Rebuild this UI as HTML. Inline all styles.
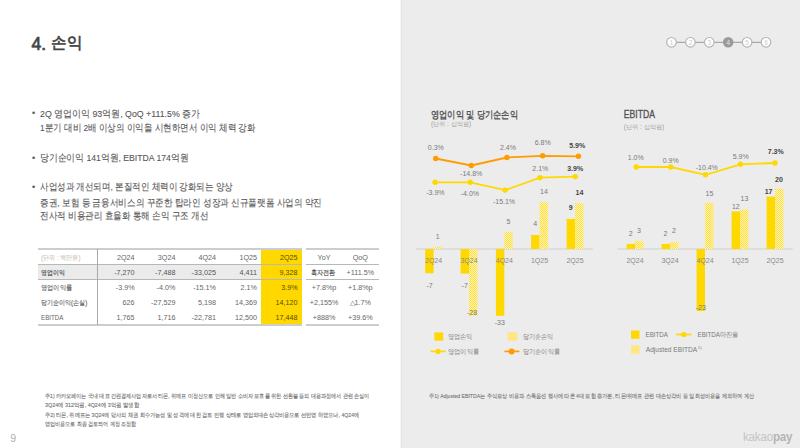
<!DOCTYPE html>
<html><head><meta charset="utf-8">
<style>
*{margin:0;padding:0;box-sizing:border-box}
html,body{width:800px;height:448px;overflow:hidden;background:#fff}
body{position:relative;font-family:"Liberation Sans",sans-serif;color:#555}
.a{position:absolute;white-space:nowrap;line-height:1}
#panel{position:absolute;left:400px;top:0;width:400px;height:448px;background:linear-gradient(90deg,#f5f5f5 0,#f5f5f5 1px,#e6e6e6 1px,#e6e6e6 2px,#ececec 2px)}
.tl{position:absolute;background:#c8c8c8}
.t{position:absolute;font-size:7.2px;color:#666;white-space:nowrap;line-height:1}
.r{text-align:right}
.c{text-align:center}
</style></head><body>
<div id="panel"></div>
<div class="a" style="left:32px;top:109.1px;font-size:9px;color:#555">•</div>
<div class="a" style="left:32px;top:153.5px;font-size:9px;color:#555">•</div>
<div class="a" style="left:32px;top:182.9px;font-size:9px;color:#555">•</div>
<!-- table -->
<div style="position:absolute;left:38px;top:265px;width:223px;height:14.5px;background:#ebebeb"></div>
<div style="position:absolute;left:260.5px;top:249px;width:41.3px;height:76px;background:#ffd800"></div>
<div class="tl" style="left:38px;top:248px;width:264px;height:2px;background:#cdcdcd"></div>
<div class="tl" style="left:38px;top:264px;width:264px;height:1px;background:#b8b8b8"></div>
<div class="tl" style="left:38px;top:279px;width:264px;height:1px;background:#b8b8b8"></div>
<div class="tl" style="left:38px;top:324.3px;width:264px;height:1.8px;background:#cdcdcd"></div>
<div class="tl" style="left:96.5px;top:249px;width:1.5px;height:76px;background:#a8a8a8"></div>
<div class="tl" style="left:306.3px;top:248px;width:73px;height:2px;background:#cdcdcd"></div>
<div class="tl" style="left:306.3px;top:264px;width:73px;height:1px;background:#b8b8b8"></div>
<div class="tl" style="left:306.3px;top:279.3px;width:73px;height:1px;background:#b8b8b8"></div>
<div class="tl" style="left:306.3px;top:324.3px;width:73px;height:1.8px;background:#cdcdcd"></div>
<div class="t r" style="left:74.6px;width:60px;top:253.6px;color:#666">2Q24</div>
<div class="t r" style="left:115.4px;width:60px;top:253.6px;color:#666">3Q24</div>
<div class="t r" style="left:156.0px;width:60px;top:253.6px;color:#666">4Q24</div>
<div class="t r" style="left:197.0px;width:60px;top:253.6px;color:#666">1Q25</div>
<div class="t r" style="left:237.6px;width:60px;top:253.6px;color:#5a4a00">2Q25</div>
<div class="t c" style="left:294.0px;width:60px;top:253.6px;letter-spacing:0">YoY</div>
<div class="t c" style="left:330.3px;width:60px;top:253.6px;letter-spacing:0">QoQ</div>
<div class="t r" style="left:74.6px;width:60px;top:268.9px;color:#555">-7,270</div>
<div class="t r" style="left:115.4px;width:60px;top:268.9px;color:#555">-7,488</div>
<div class="t r" style="left:156.0px;width:60px;top:268.9px;color:#555">-33,025</div>
<div class="t r" style="left:197.0px;width:60px;top:268.9px;color:#555">4,411</div>
<div class="t r" style="left:237.6px;width:60px;top:268.9px;color:#5a4a00">9,328</div>
<div class="t c" style="left:330.3px;width:60px;top:268.9px;letter-spacing:0">+111.5%</div>
<div class="t r" style="left:74.6px;width:60px;top:283.8px;color:#666">-3.9%</div>
<div class="t r" style="left:115.4px;width:60px;top:283.8px;color:#666">-4.0%</div>
<div class="t r" style="left:156.0px;width:60px;top:283.8px;color:#666">-15.1%</div>
<div class="t r" style="left:197.0px;width:60px;top:283.8px;color:#666">2.1%</div>
<div class="t r" style="left:237.6px;width:60px;top:283.8px;color:#5a4a00">3.9%</div>
<div class="t c" style="left:294.0px;width:60px;top:283.8px;letter-spacing:0">+7.8%p</div>
<div class="t c" style="left:330.3px;width:60px;top:283.8px;letter-spacing:0">+1.8%p</div>
<div class="t r" style="left:74.6px;width:60px;top:298.9px;color:#666">626</div>
<div class="t r" style="left:115.4px;width:60px;top:298.9px;color:#666">-27,529</div>
<div class="t r" style="left:156.0px;width:60px;top:298.9px;color:#666">5,198</div>
<div class="t r" style="left:197.0px;width:60px;top:298.9px;color:#666">14,369</div>
<div class="t r" style="left:237.6px;width:60px;top:298.9px;color:#5a4a00">14,120</div>
<div class="t c" style="left:294.0px;width:60px;top:298.9px;letter-spacing:0">+2,155%</div>
<div class="t c" style="left:330.3px;width:60px;top:298.9px;letter-spacing:0">△1.7%</div>
<div class="t r" style="left:74.6px;width:60px;top:314.1px;color:#666">1,765</div>
<div class="t r" style="left:115.4px;width:60px;top:314.1px;color:#666">1,716</div>
<div class="t r" style="left:156.0px;width:60px;top:314.1px;color:#666">-22,781</div>
<div class="t r" style="left:197.0px;width:60px;top:314.1px;color:#666">12,500</div>
<div class="t r" style="left:237.6px;width:60px;top:314.1px;color:#5a4a00">17,448</div>
<div class="t c" style="left:294.0px;width:60px;top:314.1px;letter-spacing:0">+888%</div>
<div class="t c" style="left:330.3px;width:60px;top:314.1px;letter-spacing:0">+39.6%</div>
<div class="a" id="title1" style="left:31.6px;top:35.7px;font-size:17.5px;color:#444;-webkit-text-stroke:0.7px #444">4.</div>
<div class="a" id="title2" style="left:51.3px;top:35.4px;font-size:15.5px;transform:scaleX(0.9713);transform-origin:0 0;color:#444;-webkit-text-stroke:0.7px #444">손익</div>
<div class="a" id="b1" style="left:40px;top:109px;font-size:9.8px;transform:scaleX(0.8969);transform-origin:0 0;color:#555;-webkit-text-stroke:0.1px #555">2Q 영업이익 93억원, QoQ +111.5% 증가</div>
<div class="a" id="b2" style="left:40px;top:122.7px;font-size:9.8px;transform:scaleX(0.8528);transform-origin:0 0;color:#555;-webkit-text-stroke:0.1px #555">1분기 대비 2배 이상의 이익을 시현하면서 이익 체력 강화</div>
<div class="a" id="b3" style="left:40px;top:152.6px;font-size:9.8px;transform:scaleX(0.8815);transform-origin:0 0;color:#555;-webkit-text-stroke:0.1px #555">당기순이익 141억원, EBITDA 174억원</div>
<div class="a" id="b4" style="left:40px;top:182px;font-size:9.8px;transform:scaleX(0.8522);transform-origin:0 0;color:#555;-webkit-text-stroke:0.1px #555">사업성과 개선되며, 본질적인 체력이 강화되는 양상</div>
<div class="a" id="b5" style="left:40px;top:197.8px;font-size:9.8px;transform:scaleX(0.8617);transform-origin:0 0;color:#555;-webkit-text-stroke:0.1px #555">증권, 보험 등 금융서비스의 꾸준한 탑라인 성장과 신규플랫폼 사업의 약진</div>
<div class="a" id="b6" style="left:40px;top:211.3px;font-size:9.8px;transform:scaleX(0.8575);transform-origin:0 0;color:#555;-webkit-text-stroke:0.1px #555">전사적 비용관리 효율화 통해 손익 구조 개선</div>
<div class="a" id="f1" style="left:45px;top:392.5px;font-size:6.0px;transform:scaleX(0.8465);transform-origin:0 0;color:#707070;-webkit-text-stroke:0.12px #707070">주1) 카카오페이는 국내 대표 간편결제사업자로서 티몬, 위메프 미정산으로 인해 일반 소비자 보호를 위한 선환불 등의 대응과정에서 관련 손실이</div>
<div class="a" id="f2" style="left:45px;top:402.3px;font-size:6.0px;transform:scaleX(0.8953);transform-origin:0 0;color:#707070;-webkit-text-stroke:0.12px #707070">3Q24에 312억원, 4Q24에 3억원 발생함</div>
<div class="a" id="f3" style="left:45px;top:411.8px;font-size:6.0px;transform:scaleX(0.8618);transform-origin:0 0;color:#707070;-webkit-text-stroke:0.12px #707070">주2) 티몬, 위메프는 3Q24에 당사의 채권 회수가능성 및 성격에 대한 검토 진행 상태로 영업외대손상각비용으로 선반영 하였으나, 4Q24에</div>
<div class="a" id="f4" style="left:45px;top:421.3px;font-size:6.0px;transform:scaleX(0.8404);transform-origin:0 0;color:#707070;-webkit-text-stroke:0.12px #707070">영업비용으로 최종 검토되어 계정 조정함</div>
<div class="a" id="f5" style="left:428.8px;top:393.2px;font-size:6.0px;transform:scaleX(0.8566);transform-origin:0 0;color:#727272;-webkit-text-stroke:0.1px #727272">주1) Adjusted EBITDA는 주식보상 비용과 스톡옵션 행사에 따른 4대 보험 증가분, 티몬/위메프 관련 대손상각비 등 일회성비용을 제외하여 계산</div>
<div class="a" id="t0" style="left:41.2px;top:254.2px;font-size:7.2px;transform:scaleX(0.8642);transform-origin:0 0;color:#c2b5aa">(단위 : 백만원)</div>
<div class="a" id="t1" style="left:41.2px;top:269.2px;font-size:7.2px;transform:scaleX(0.8455);transform-origin:0 0;color:#444;-webkit-text-stroke:0.15px #444">영업이익</div>
<div class="a" id="t2" style="left:41.2px;top:284.2px;font-size:7.2px;transform:scaleX(0.8851);transform-origin:0 0;color:#555;-webkit-text-stroke:0.1px #555">영업이익률</div>
<div class="a" id="t3" style="left:41.2px;top:299.3px;font-size:7.2px;transform:scaleX(0.8607);transform-origin:0 0;color:#555;-webkit-text-stroke:0.1px #555">당기순이익(손실)</div>
<div class="a" id="t4" style="left:41.2px;top:314.3px;font-size:7.2px;transform:scaleX(0.8621);transform-origin:0 0;color:#666">EBITDA</div>
<div class="a" id="t5" style="left:311.4px;top:269.2px;font-size:7.2px;transform:scaleX(0.8643);transform-origin:0 0;color:#444;-webkit-text-stroke:0.15px #444">흑자전환</div>
<div class="a" style="left:10.2px;top:433.3px;font-size:10.5px;color:#b0b0b0">9</div>
<div class="a" style="left:742.5px;top:431px;font-size:12.5px;letter-spacing:-0.2px;transform:scaleX(0.925);transform-origin:0 0;color:#c4c4c4">kakao<span style="font-weight:bold;color:#b4b4b4">pay</span></div>
<svg class="a" style="left:0;top:0" width="800" height="448" viewBox="0 0 800 448" font-family="Liberation Sans">
<defs><pattern id="hatch" width="2" height="2" patternUnits="userSpaceOnUse"><rect width="2" height="2" fill="#fff5bc"/><rect width="1" height="1" fill="#ffde38"/><rect x="1" y="1" width="1" height="1" fill="#ffde38"/></pattern></defs>
<line x1="671.5" y1="42.3" x2="766" y2="42.3" stroke="#9a9a9a" stroke-width="1"/>
<circle cx="671.5" cy="42.3" r="4.8" fill="#fff" stroke="#b4b4b4" stroke-width="1.2"/>
<circle cx="690.4" cy="42.3" r="4.8" fill="#fff" stroke="#b4b4b4" stroke-width="1.2"/>
<circle cx="709.3" cy="42.3" r="4.8" fill="#fff" stroke="#b4b4b4" stroke-width="1.2"/>
<circle cx="728.2" cy="42.3" r="5.3" fill="#9a9a9a"/>
<circle cx="747.1" cy="42.3" r="4.8" fill="#fff" stroke="#b4b4b4" stroke-width="1.2"/>
<circle cx="766.0" cy="42.3" r="4.8" fill="#fff" stroke="#b4b4b4" stroke-width="1.2"/>
<text x="671.5" y="44.6" font-size="6.3" text-anchor="middle" fill="#c8c8c8">1</text>
<text x="690.4" y="44.6" font-size="6.3" text-anchor="middle" fill="#c8c8c8">2</text>
<text x="709.3" y="44.6" font-size="6.3" text-anchor="middle" fill="#c8c8c8">3</text>
<text x="728.2" y="44.6" font-size="6.3" text-anchor="middle" fill="#e4e4e4">4</text>
<text x="747.1" y="44.6" font-size="6.3" text-anchor="middle" fill="#c8c8c8">5</text>
<text x="766.0" y="44.6" font-size="6.3" text-anchor="middle" fill="#c8c8c8">6</text>
<line x1="416" y1="249.0" x2="592.8" y2="249.0" stroke="#cfcfcf" stroke-width="1"/>
<rect x="425.20" y="249.00" width="8.40" height="24.20" fill="#ffd800"/>
<rect x="433.60" y="246.90" width="8.50" height="2.10" fill="url(#hatch)"/>
<rect x="460.60" y="249.00" width="8.40" height="24.60" fill="#ffd800"/>
<rect x="469.00" y="249.00" width="8.50" height="67.00" fill="url(#hatch)"/>
<rect x="495.90" y="249.00" width="8.40" height="66.80" fill="#ffd800"/>
<rect x="504.30" y="232.20" width="8.50" height="16.80" fill="url(#hatch)"/>
<rect x="531.10" y="235.00" width="8.40" height="14.00" fill="#ffd800"/>
<rect x="539.50" y="202.00" width="8.50" height="47.00" fill="url(#hatch)"/>
<rect x="566.60" y="218.90" width="8.40" height="30.10" fill="#ffd800"/>
<rect x="575.00" y="203.10" width="8.50" height="45.90" fill="url(#hatch)"/>
<text x="433.60" y="262.62" font-size="7" fill="#8a8a8a" text-anchor="middle">2Q24</text>
<text x="469.00" y="262.62" font-size="7" fill="#8a8a8a" text-anchor="middle">3Q24</text>
<text x="504.30" y="262.62" font-size="7" fill="#8a8a8a" text-anchor="middle">4Q24</text>
<text x="539.50" y="262.62" font-size="7" fill="#8a8a8a" text-anchor="middle">1Q25</text>
<text x="575.00" y="262.62" font-size="7" fill="#8a8a8a" text-anchor="middle">2Q25</text>
<polyline points="435.7,158.5 471.3,165.5 506.9,157.5 542.7,155.8 578.4,156.3" fill="none" stroke="#ff9c00" stroke-width="1.8"/>
<circle cx="435.7" cy="158.5" r="2.7" fill="#ff9c00"/>
<circle cx="471.3" cy="165.5" r="2.7" fill="#ff9c00"/>
<circle cx="506.9" cy="157.5" r="2.7" fill="#ff9c00"/>
<circle cx="542.7" cy="155.8" r="2.7" fill="#ff9c00"/>
<circle cx="578.4" cy="156.3" r="2.7" fill="#ff9c00"/>
<polyline points="435.1,182.3 470.2,182.3 505.2,190.1 540.0,177.6 575.3,176.6" fill="none" stroke="#ffd800" stroke-width="1.8"/>
<circle cx="435.1" cy="182.3" r="2.7" fill="#ffd800"/>
<circle cx="470.2" cy="182.3" r="2.7" fill="#ffd800"/>
<circle cx="505.2" cy="190.1" r="2.7" fill="#ffd800"/>
<circle cx="540.0" cy="177.6" r="2.7" fill="#ffd800"/>
<circle cx="575.3" cy="176.6" r="2.7" fill="#ffd800"/>
<text x="435.80" y="150.12" font-size="7" fill="#7a7a7a" text-anchor="middle">0.3%</text>
<text x="471.20" y="176.22" font-size="7" fill="#7a7a7a" text-anchor="middle">-14.8%</text>
<text x="508.00" y="150.02" font-size="7" fill="#7a7a7a" text-anchor="middle">2.4%</text>
<text x="542.70" y="144.82" font-size="7" fill="#7a7a7a" text-anchor="middle">6.8%</text>
<text x="577.20" y="148.12" font-size="7" font-weight="bold" fill="#444" text-anchor="middle">5.9%</text>
<text x="435.40" y="194.72" font-size="7" fill="#7a7a7a" text-anchor="middle">-3.9%</text>
<text x="469.90" y="195.62" font-size="7" fill="#7a7a7a" text-anchor="middle">-4.0%</text>
<text x="504.00" y="203.92" font-size="7" fill="#7a7a7a" text-anchor="middle">-15.1%</text>
<text x="540.30" y="171.12" font-size="7" fill="#7a7a7a" text-anchor="middle">2.1%</text>
<text x="575.20" y="170.82" font-size="7" font-weight="bold" fill="#444" text-anchor="middle">3.9%</text>
<text x="437.75" y="238.92" font-size="7" fill="#7a7a7a" text-anchor="middle">1</text>
<text x="508.50" y="224.12" font-size="7" fill="#7a7a7a" text-anchor="middle">5</text>
<text x="543.90" y="193.82" font-size="7" fill="#7a7a7a" text-anchor="middle">14</text>
<text x="535.10" y="226.22" font-size="7" fill="#7a7a7a" text-anchor="middle">4</text>
<text x="570.80" y="210.27" font-size="7" font-weight="bold" fill="#444" text-anchor="middle">9</text>
<text x="579.40" y="194.52" font-size="7" font-weight="bold" fill="#444" text-anchor="middle">14</text>
<text x="429.50" y="287.52" font-size="7" fill="#7a7a7a" text-anchor="middle">-7</text>
<text x="464.70" y="287.52" font-size="7" fill="#7a7a7a" text-anchor="middle">-7</text>
<text x="472.00" y="314.82" font-size="7" fill="#7a7a7a" text-anchor="middle">-28</text>
<text x="499.80" y="324.52" font-size="7" fill="#7a7a7a" text-anchor="middle">-33</text>
<line x1="617.5" y1="249.0" x2="792.7" y2="249.0" stroke="#cfcfcf" stroke-width="1"/>
<rect x="626.60" y="243.90" width="8.40" height="5.10" fill="#ffd800"/>
<rect x="635.00" y="240.80" width="8.50" height="8.20" fill="url(#hatch)"/>
<rect x="661.60" y="243.90" width="8.40" height="5.10" fill="#ffd800"/>
<rect x="670.00" y="242.00" width="8.50" height="7.00" fill="url(#hatch)"/>
<rect x="696.60" y="249.00" width="8.40" height="62.00" fill="#ffd800"/>
<rect x="705.00" y="202.80" width="8.50" height="46.20" fill="url(#hatch)"/>
<rect x="731.60" y="211.40" width="8.40" height="37.60" fill="#ffd800"/>
<rect x="740.00" y="209.50" width="8.50" height="39.50" fill="url(#hatch)"/>
<rect x="766.60" y="196.60" width="8.40" height="52.40" fill="#ffd800"/>
<rect x="775.00" y="188.75" width="8.50" height="60.25" fill="url(#hatch)"/>
<text x="635.00" y="262.62" font-size="7" fill="#8a8a8a" text-anchor="middle">2Q24</text>
<text x="670.00" y="262.62" font-size="7" fill="#8a8a8a" text-anchor="middle">3Q24</text>
<text x="705.00" y="262.62" font-size="7" fill="#8a8a8a" text-anchor="middle">4Q24</text>
<text x="740.00" y="262.62" font-size="7" fill="#8a8a8a" text-anchor="middle">1Q25</text>
<text x="775.00" y="262.62" font-size="7" fill="#8a8a8a" text-anchor="middle">2Q25</text>
<polyline points="636.25,167.0 670.75,167.0 705.5,174.8 740.5,164.3 775.0,163.0" fill="none" stroke="#ffd800" stroke-width="1.8"/>
<circle cx="636.25" cy="167.0" r="2.7" fill="#ffd800"/>
<circle cx="670.75" cy="167.0" r="2.7" fill="#ffd800"/>
<circle cx="705.5" cy="174.8" r="2.7" fill="#ffd800"/>
<circle cx="740.5" cy="164.3" r="2.7" fill="#ffd800"/>
<circle cx="775.0" cy="163.0" r="2.7" fill="#ffd800"/>
<text x="635.75" y="159.52" font-size="7" fill="#7a7a7a" text-anchor="middle">1.0%</text>
<text x="670.75" y="163.02" font-size="7" fill="#7a7a7a" text-anchor="middle">0.9%</text>
<text x="706.75" y="170.02" font-size="7" fill="#7a7a7a" text-anchor="middle">-10.4%</text>
<text x="740.75" y="158.82" font-size="7" fill="#7a7a7a" text-anchor="middle">5.9%</text>
<text x="775.75" y="154.32" font-size="7" font-weight="bold" fill="#444" text-anchor="middle">7.3%</text>
<text x="630.80" y="235.82" font-size="7" fill="#7a7a7a" text-anchor="middle">2</text>
<text x="639.00" y="232.72" font-size="7" fill="#7a7a7a" text-anchor="middle">3</text>
<text x="665.50" y="235.82" font-size="7" fill="#7a7a7a" text-anchor="middle">2</text>
<text x="674.00" y="233.02" font-size="7" fill="#7a7a7a" text-anchor="middle">2</text>
<text x="709.50" y="196.42" font-size="7" fill="#7a7a7a" text-anchor="middle">15</text>
<text x="735.80" y="208.92" font-size="7" fill="#7a7a7a" text-anchor="middle">12</text>
<text x="744.40" y="201.12" font-size="7" fill="#7a7a7a" text-anchor="middle">13</text>
<text x="768.60" y="193.92" font-size="7" font-weight="bold" fill="#444" text-anchor="middle">17</text>
<text x="779.00" y="182.22" font-size="7" font-weight="bold" fill="#444" text-anchor="middle">20</text>
<text x="700.75" y="309.52" font-size="7" fill="#7a7a7a" text-anchor="middle">-23</text>
<rect x="434.40" y="332.40" width="8.80" height="8.20" fill="#ffd800"/>
<rect x="507.60" y="332.40" width="9.40" height="8.20" fill="#ffe680"/>
<line x1="430.4" y1="351.4" x2="445.6" y2="351.4" stroke="#ffd800" stroke-width="1.6"/><circle cx="438" cy="351.4" r="2.6" fill="#ffd800"/>
<line x1="504.4" y1="351.4" x2="519.4" y2="351.4" stroke="#ff9c00" stroke-width="1.6"/><circle cx="511.6" cy="351.4" r="3" fill="#ff9c00"/>
<text x="448.00" y="339.12" font-size="7" textLength="24.50" lengthAdjust="spacingAndGlyphs" fill="#7a7a7a" text-anchor="start">영업손익</text>
<text x="523.00" y="339.12" font-size="7" textLength="30.50" lengthAdjust="spacingAndGlyphs" fill="#7a7a7a" text-anchor="start">당기순손익</text>
<text x="448.00" y="353.92" font-size="7" textLength="30.90" lengthAdjust="spacingAndGlyphs" fill="#7a7a7a" text-anchor="start">영업이익률</text>
<text x="523.00" y="353.92" font-size="7" textLength="36.90" lengthAdjust="spacingAndGlyphs" fill="#7a7a7a" text-anchor="start">당기순이익률</text>
<rect x="631.00" y="330.50" width="8.50" height="8.25" fill="#ffd800"/>
<rect x="631.00" y="345.50" width="8.50" height="8.25" fill="#ffe680"/>
<line x1="676.25" y1="334.5" x2="691.25" y2="334.5" stroke="#ffd800" stroke-width="1.6"/><circle cx="683.75" cy="334.5" r="2.6" fill="#ffd800"/>
<text x="645.50" y="337.02" font-size="7" textLength="22.50" lengthAdjust="spacingAndGlyphs" fill="#7a7a7a" text-anchor="start">EBITDA</text>
<text x="697.50" y="337.02" font-size="7" textLength="41.20" lengthAdjust="spacingAndGlyphs" fill="#7a7a7a" text-anchor="start">EBITDA마진율</text>
<text x="645.75" y="351.77" font-size="7" textLength="51.50" lengthAdjust="spacingAndGlyphs" fill="#7a7a7a" text-anchor="start">Adjusted EBITDA</text>
<text x="697.80" y="348.85" font-size="4.3" fill="#7a7a7a" text-anchor="start">1)</text>
<text x="430.90" y="117.53" font-size="9.8" font-weight="bold" textLength="87.00" lengthAdjust="spacingAndGlyphs" fill="#555" text-anchor="start">영업이익 및 당기순손익</text>
<text x="430.90" y="126.47" font-size="6.3" textLength="40.20" lengthAdjust="spacingAndGlyphs" fill="#a0a0a0" text-anchor="start">(단위 : 십억원)</text>
<text stroke="#505050" stroke-width="0.3" x="623.75" y="117.51" font-size="10.3" textLength="31.20" lengthAdjust="spacingAndGlyphs" fill="#505050" text-anchor="start">EBITDA</text>
<text x="623.75" y="128.87" font-size="6.3" textLength="40.50" lengthAdjust="spacingAndGlyphs" fill="#a0a0a0" text-anchor="start">(단위 : 십억원)</text>
</svg>
</body></html>
